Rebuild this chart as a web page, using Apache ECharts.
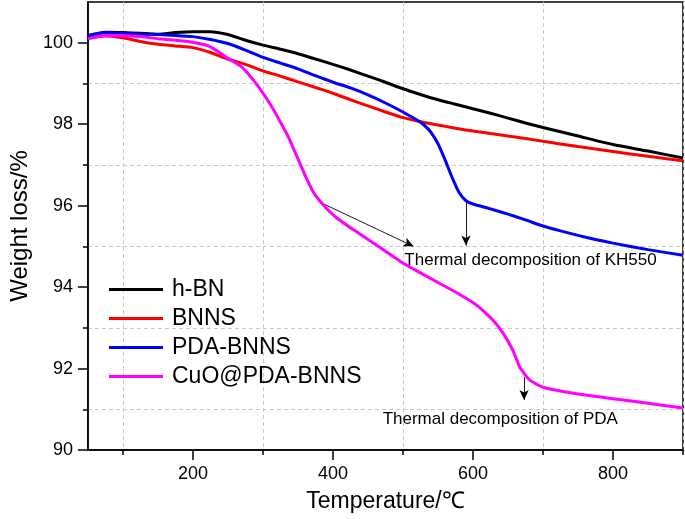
<!DOCTYPE html>
<html><head><meta charset="utf-8">
<script src="https://cdn.jsdelivr.net/npm/echarts@6/dist/echarts.min.js"></script>
<style>html,body{margin:0;padding:0;background:#fff}#c{width:685px;height:519px}</style>
</head><body><div id="c"></div>
<script>
// ---- data ----
const hbnT = [50,75,100,125,150,175,200,225,250,275,300,325,350,375,400,425,450,475,500,525,550,575,600,625,650,675,700,750,800,850,900];
const hbnW = [100.17,100.26,100.25,100.23,100.21,100.25,100.27,100.27,100.2,100.06,99.94,99.84,99.73,99.6,99.47,99.33,99.18,99.03,98.87,98.73,98.6,98.49,98.38,98.27,98.15,98.03,97.92,97.71,97.5,97.34,97.17];

const bnnsT = [50,75,100,125,150,175,200,225,250,275,300,325,350,375,400,425,450,475,500,525,550,575,600,625,650,675,700,750,800,850,900];
const bnnsW = [100.1,100.17,100.12,100.03,99.96,99.92,99.88,99.76,99.6,99.47,99.31,99.18,99.04,98.9,98.76,98.6,98.45,98.3,98.16,98.06,97.98,97.9,97.83,97.77,97.71,97.65,97.58,97.45,97.33,97.21,97.1];

const pdaT = [50,75,100,125,150,175,200,225,250,275,300,325,350,375,400,425,450,475,500,510,520,530,540,550,560,570,580,590,600,625,650,675,700,725,750,775,800,850,900];
const pdaW = [100.17,100.25,100.23,100.21,100.2,100.18,100.15,100.08,99.98,99.82,99.64,99.5,99.36,99.19,99.03,98.89,98.72,98.52,98.3,98.2,98.1,97.98,97.8,97.52,97.13,96.7,96.33,96.12,96.04,95.92,95.79,95.65,95.5,95.38,95.27,95.17,95.08,94.92,94.78];

const cuoT = [50,75,100,125,150,175,200,225,250,270,290,310,325,336,350,364,375,390,406,430,452,475,499,525,546,578,600,616,630,643,657,667,681,700,741,800,858,900];
const cuoW = [100.1,100.17,100.17,100.15,100.1,100.06,100.01,99.9,99.62,99.4,99.0,98.5,98.05,97.7,97.15,96.6,96.25,95.95,95.69,95.4,95.15,94.88,94.6,94.35,94.15,93.85,93.62,93.4,93.16,92.87,92.45,92.03,91.72,91.54,91.4,91.26,91.13,91.03];

const seriesNames = ['h-BN','BNNS','PDA-BNNS','CuO@PDA-BNNS'];
const xMajorTicks = [200,400,600,800];
const xMinorTicks = [100,300,500,700,900];
const yMajorTicks = [90,92,94,96,98,100];
const yMinorTicks = [91,93,95,97,99];

const arrowKH_curve = [[382,96.08],[515,95.0]];
const arrowKH_vert = [[590,96.1],[590,95.02]];
const arrowPDA_vert = [[673,91.79],[673,91.23]];
const textKH = 'Thermal decomposition of KH550';
const textPDA = 'Thermal decomposition of PDA';

// ---- chart ----
const FONT = "'Liberation Sans', Arial, sans-serif";
const zip = (a, b) => a.map((v, i) => [v, b[i]]);
const chart = echarts.init(document.getElementById('c'), null, {renderer: 'canvas'});

const gridCol = '#c8c8c8';
const baseX = {type: 'value', min: 50, max: 900, gridIndex: 0, position: 'bottom'};
const baseY = {type: 'value', min: 90, max: 101, gridIndex: 0, position: 'left'};

function lineSeries(name, T, W, color, extra) {
  return Object.assign({
    name, type: 'line', data: zip(T, W), showSymbol: false, symbol: 'none',
    smooth: 0.2, lineStyle: {color, width: 3}, itemStyle: {color},
    xAxisIndex: 0, yAxisIndex: 0, silent: true, z: 5
  }, extra || {});
}

const arrowStyle = {color: '#000', width: 0.9, type: 'solid'};
chart.setOption({
  animation: false,
  backgroundColor: '#fff',
  grid: {left: 77, right: 2, top: 2, bottom: 69, show: true, borderColor: '#000', borderWidth: 1.5, backgroundColor: 'transparent'},
  legend: {
    orient: 'vertical', left: 109, top: 278, itemGap: 6, itemWidth: 54, itemHeight: 3,
    icon: 'rect', data: seriesNames,
    textStyle: {fontFamily: FONT, fontSize: 23, color: '#000', lineHeight: 23, padding: [0,0,0,4]},
    padding: 0
  },
  xAxis: [
    Object.assign({}, baseX, {
      name: 'Temperature/℃', nameLocation: 'middle', nameGap: 40,
      nameTextStyle: {fontFamily: FONT, fontSize: 23, color: '#000'},
      axisLine: {show: true, onZero: false, lineStyle: {color: '#000', width: 1.5}},
      axisTick: {show: true, inside: false, length: 10, lineStyle: {color: '#000', width: 1.5}, customValues: xMajorTicks},
      axisLabel: {show: true, margin: 15, fontFamily: FONT, fontSize: 18, color: '#000', customValues: xMajorTicks},
      splitLine: {show: false}
    }),
    Object.assign({}, baseX, {
      axisLine: {show: false},
      axisTick: {show: true, inside: false, length: 5, lineStyle: {color: '#000', width: 1.5}, customValues: xMinorTicks},
      axisLabel: {show: false},
      splitLine: {show: true, lineStyle: {color: gridCol, width: 1, type: [4, 3]}}
    })
  ],
  yAxis: [
    Object.assign({}, baseY, {
      name: 'Weight loss/%', nameLocation: 'middle', nameGap: 48,
      nameTextStyle: {fontFamily: FONT, fontSize: 24, color: '#000'},
      axisLine: {show: true, onZero: false, lineStyle: {color: '#000', width: 1.5}},
      axisTick: {show: true, inside: false, length: 10, lineStyle: {color: '#000', width: 1.5}, customValues: yMajorTicks},
      axisLabel: {show: true, margin: 15, fontFamily: FONT, fontSize: 18, color: '#000', customValues: yMajorTicks},
      splitLine: {show: false}
    }),
    Object.assign({}, baseY, {
      axisLine: {show: false},
      axisTick: {show: true, inside: false, length: 5, lineStyle: {color: '#000', width: 1.5}, customValues: yMinorTicks},
      axisLabel: {show: false},
      splitLine: {show: true, lineStyle: {color: gridCol, width: 1, type: [4, 3]}}
    })
  ],
  series: [
    lineSeries(seriesNames[0], hbnT, hbnW, '#000000'),
    lineSeries(seriesNames[1], bnnsT, bnnsW, '#ff0000'),
    lineSeries(seriesNames[2], pdaT, pdaW, '#0000ff'),
    lineSeries(seriesNames[3], cuoT, cuoW, '#ff00ff', {
      markLine: {
        silent: true, symbol: ['none', 'arrow'], symbolSize: [7, 10],
        label: {show: false}, lineStyle: arrowStyle, animation: false,
        data: [
          [{coord: arrowKH_curve[0]}, {coord: arrowKH_curve[1]}],
          [{coord: arrowKH_vert[0]}, {coord: arrowKH_vert[1]}],
          [{coord: arrowPDA_vert[0]}, {coord: arrowPDA_vert[1]}]
        ]
      }
    })
  ]
});

const pKH = chart.convertToPixel({gridIndex: 0}, [502, 94.66]);
const pPDA = chart.convertToPixel({gridIndex: 0}, [639, 90.76]);
chart.setOption({
  graphic: [
    {type: 'text', x: pKH[0], y: pKH[1], z: 10, style: {text: textKH, fontFamily: FONT, fontSize: 17, fill: '#000', align: 'left', verticalAlign: 'middle'}},
    {type: 'text', x: pPDA[0], y: pPDA[1], z: 10, style: {text: textPDA, fontFamily: FONT, fontSize: 17, fill: '#000', align: 'center', verticalAlign: 'middle'}}
  ]
});
</script></body></html>
